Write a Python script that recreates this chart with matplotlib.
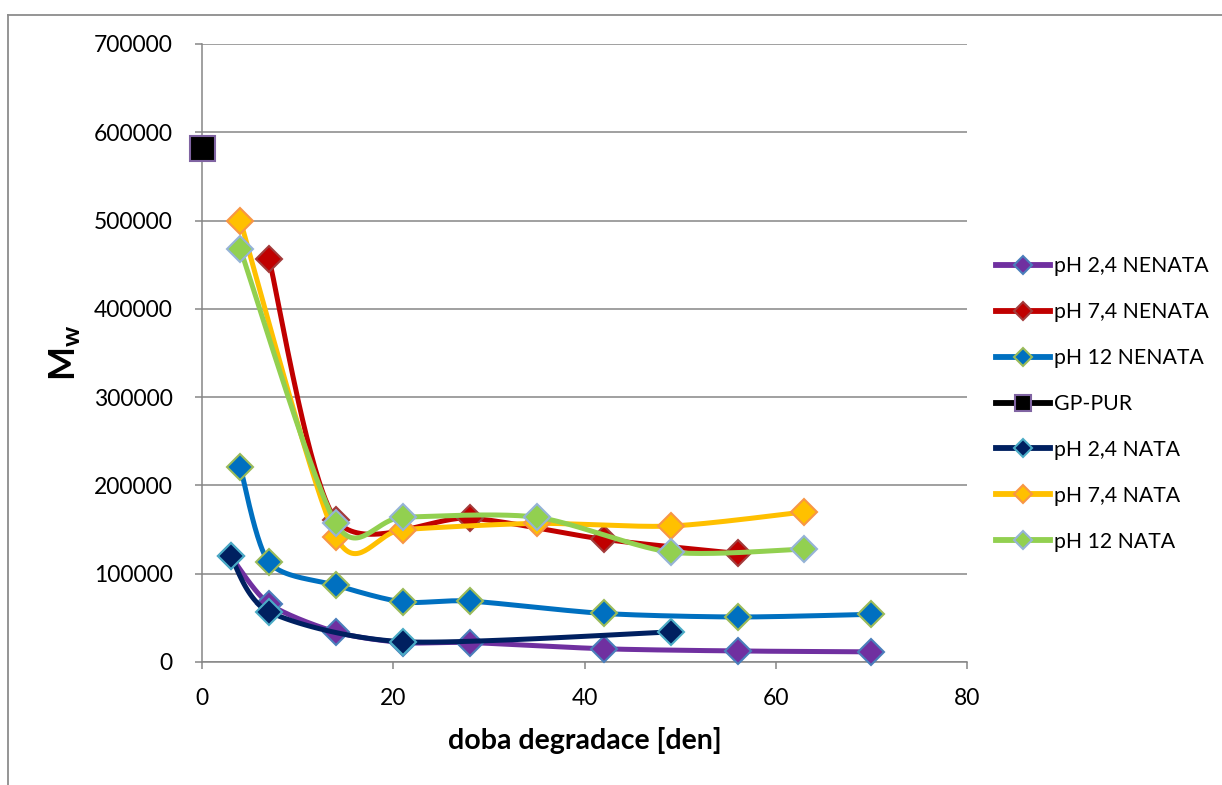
import numpy as np
import matplotlib
matplotlib.use("Agg")
import matplotlib.pyplot as plt
from matplotlib.lines import Line2D

plt.rcParams['font.family'] = ['Lato', 'DejaVu Sans']
plt.rcParams['mathtext.fontset'] = 'custom'
plt.rcParams['mathtext.rm'] = 'Lato'
plt.rcParams['mathtext.bf'] = 'Lato:bold'

# Weight-average molar mass over the degradation time (days)
days_ph24_nenata = [3, 7, 14, 21, 28, 42, 56, 70]
mw_ph24_nenata = [120000, 66000, 34000, 22000, 22000, 15000, 12500, 11500]

days_ph74_nenata = [7, 14, 28, 42, 56]
mw_ph74_nenata = [457000, 161000, 163000, 139000, 123000]

days_ph12_nenata = [4, 7, 14, 21, 28, 42, 56, 70]
mw_ph12_nenata = [221000, 113000, 87000, 68000, 69000, 55000, 51000, 54000]

days_gp_pur = [0]
mw_gp_pur = [582000]

days_ph24_nata = [3, 7, 21, 49]
mw_ph24_nata = [120000, 57000, 23000, 34000]

days_ph74_nata = [4, 14, 21, 35, 49, 63]
mw_ph74_nata = [500000, 142000, 150000, 157000, 154000, 170000]

days_ph12_nata = [4, 14, 21, 35, 49, 63]
mw_ph12_nata = [468000, 157000, 164000, 164000, 124500, 128000]

series_labels = ["pH 2,4 NENATA", "pH 7,4 NENATA", "pH 12 NENATA", "GP-PUR",
                 "pH 2,4 NATA", "pH 7,4 NATA", "pH 12 NATA"]

x_ticks = [0, 20, 40, 60, 80]
y_ticks = [0, 100000, 200000, 300000, 400000, 500000, 600000, 700000]
y_tick_labels = ["0", "100000", "200000", "300000", "400000", "500000", "600000", "700000"]

W, H = 1222, 785
fig = plt.figure(figsize=(W / 100, H / 100), dpi=100)
ax = fig.add_axes([202 / W, 1 - 662 / H, (967 - 202) / W, (662 - 44) / H])
XMAX, YMAX = 80, 700000
ax.set_xlim(0, XMAX)
ax.set_ylim(0, YMAX)


def smooth(xs, ys, n=40, k=6.0):
    """Smoothed line: cardinal Bezier spline built in screen proportions."""
    xs = np.asarray(xs, float)
    ys = np.asarray(ys, float)
    if len(xs) < 2:
        return xs, ys
    sx, sy = 765.0 / XMAX, 618.0 / YMAX
    P = np.column_stack([xs * sx, ys * sy])
    out = [P[0]]
    for i in range(len(P) - 1):
        p0 = P[i - 1] if i > 0 else P[i]
        p1, p2 = P[i], P[i + 1]
        p3 = P[i + 2] if i + 2 < len(P) else P[i + 1]
        c1 = p1 + (p2 - p0) / k
        c2 = p2 - (p3 - p1) / k
        t = np.linspace(0, 1, n)[1:, None]
        seg = ((1 - t) ** 3) * p1 + 3 * ((1 - t) ** 2) * t * c1 + 3 * (1 - t) * t ** 2 * c2 + t ** 3 * p2
        out.extend(seg)
    out = np.array(out)
    return out[:, 0] / sx, out[:, 1] / sy


styles = [
    # line colour, marker, face, edge, size
    ("#7030A0", "D", "#7030A0", "#4A7EBB", 13),
    ("#C00000", "D", "#C00000", "#A33B3B", 13),
    ("#0070C0", "D", "#0070C0", "#9BBB59", 13),
    ("#000000", "s", "#000000", "#8064A2", 18),
    ("#002060", "D", "#002060", "#4BACC6", 13),
    ("#FFC000", "D", "#FFC000", "#F79646", 13),
    ("#92D050", "D", "#92D050", "#95B3D7", 13),
]
data = [
    (days_ph24_nenata, mw_ph24_nenata),
    (days_ph74_nenata, mw_ph74_nenata),
    (days_ph12_nenata, mw_ph12_nenata),
    (days_gp_pur, mw_gp_pur),
    (days_ph24_nata, mw_ph24_nata),
    (days_ph74_nata, mw_ph74_nata),
    (days_ph12_nata, mw_ph12_nata),
]

handles = []
for k, ((xs, ys), (lc, mk, fc, ec, ms), lab) in enumerate(zip(data, styles, series_labels)):
    z = 3 + 2 * k
    sxv, syv = smooth(xs, ys, k=7.5)
    ax.plot(sxv, syv, color=lc, lw=3.6, zorder=z, clip_on=False, solid_capstyle='round')
    ax.plot(xs, ys, linestyle='none', marker=mk, markersize=ms, markerfacecolor=fc,
            markeredgecolor=ec, markeredgewidth=1.5, zorder=z + 1, clip_on=False)
    handles.append(Line2D([], [], color=lc, lw=4.2, marker=mk,
                          markersize=9 if mk == "D" else 11,
                          markerfacecolor=fc, markeredgecolor=ec, markeredgewidth=1.5,
                          label=lab))

grey = "#868686"
ax.set_xticks(x_ticks)
ax.set_yticks(y_ticks)
ax.set_yticklabels(y_tick_labels)
ax.yaxis.grid(True, color=grey, lw=1.1)
ax.set_axisbelow(True)
for s in ("top", "right"):
    ax.spines[s].set_visible(False)
for s in ("left", "bottom"):
    ax.spines[s].set_color(grey)
    ax.spines[s].set_linewidth(1.1)
ax.tick_params(axis='both', direction='out', length=5, width=1.1, color=grey,
               labelsize=16.5, labelcolor='black')
ax.tick_params(axis='y', pad=16)
ax.tick_params(axis='x', pad=14)

ax.set_xlabel("doba degradace [den]", fontsize=20.5, fontweight='bold', labelpad=13)
ax.set_ylabel(r"$\mathbf{M_w}$", fontsize=26, labelpad=8)

fig.legend(handles=handles, loc='center left', bbox_to_anchor=(985 / W, 1 - 404 / H),
           frameon=False, fontsize=15.3, handlelength=2.55, handletextpad=0.2,
           labelspacing=1.22, borderpad=0)

# chart area frame (left and top edges)
frame_c = "#8C8C8C"
fig.add_artist(Line2D([8 / W, 8 / W], [0, 1 - 15 / H], transform=fig.transFigure,
                      color=frame_c, lw=1.3))
fig.add_artist(Line2D([8 / W, 1], [1 - 15 / H, 1 - 15 / H], transform=fig.transFigure,
                      color=frame_c, lw=1.3))

fig.savefig("out.png", dpi=100)
